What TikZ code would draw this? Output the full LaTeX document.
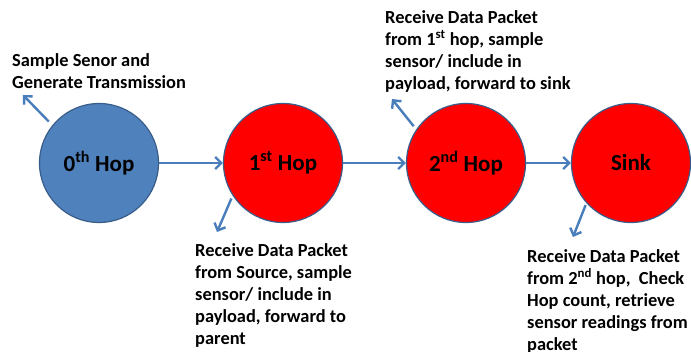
\documentclass[tikz,border=0pt]{standalone}
\usepackage{fontspec}
\setmainfont{Carlito}
\usetikzlibrary{arrows.meta}
\definecolor{hopblue}{RGB}{79,129,189}
\definecolor{rimblue}{RGB}{56,93,138}
\definecolor{linkblue}{RGB}{74,126,187}
\tikzset{
  hop/.style={circle,draw=rimblue,line width=1.2pt,minimum size=119pt,inner sep=0pt,
    font=\fontsize{23}{27}\selectfont\bfseries},
  link/.style={draw=linkblue,line width=2.4pt,-{Straight Barb[length=6pt,width=12pt]}},
  note/.style={align=left,anchor=north west,inner sep=0pt,
    font=\fontsize{18.4}{22}\selectfont\bfseries}
}

\begin{document}
\begin{tikzpicture}[x=1pt,y=-1pt]
  \useasboundingbox (0,0) rectangle (691,351);
  \node[hop,fill=hopblue] (h0) at (99,163)  {0\textsuperscript{th} Hop};
  \node[hop,fill=red]     (h1) at (283,163) {1\textsuperscript{st} Hop};
  \node[hop,fill=red]     (h2) at (466,163) {2\textsuperscript{nd} Hop};
  \node[hop,fill=red]     (sk) at (631,163) {Sink};
  \draw[link] (h0) -- (h1);
  \draw[link] (h1) -- (h2);
  \draw[link] (h2) -- (sk);
  % notes
  \node[note] (n0) at (12,50.6)  {\strut Sample Senor and\\Generate Transmission};
  \node[note] (n1) at (195,240.6) {\strut Receive Data Packet\\from Source, sample\\sensor/ include in\\payload, forward to\\parent};
  \node[note] (n2) at (385,7.6)  {\strut Receive Data Packet\\from 1\textsuperscript{st} hop, sample\\sensor/ include in\\payload, forward to sink};
  \node[note] (n3) at (527,246.6) {\strut Receive Data Packet\\from 2\textsuperscript{nd} hop, \ Check\\Hop count, retrieve\\sensor readings from\\packet};
  \coordinate (t0) at (23,95);
  \coordinate (t1) at (217,232);
  \coordinate (t2) at (392,99);
  \coordinate (t3) at (573,237);
  \draw[link,shorten <=5pt] (h0.141) -- (t0);
  \draw[link,shorten <=3pt] (h1.213) -- (t1);
  \draw[link,shorten <=4pt] (h2.146) -- (t2);
  \draw[link,shorten <=2pt] (sk.222) -- (t3);
\end{tikzpicture}
\end{document}
